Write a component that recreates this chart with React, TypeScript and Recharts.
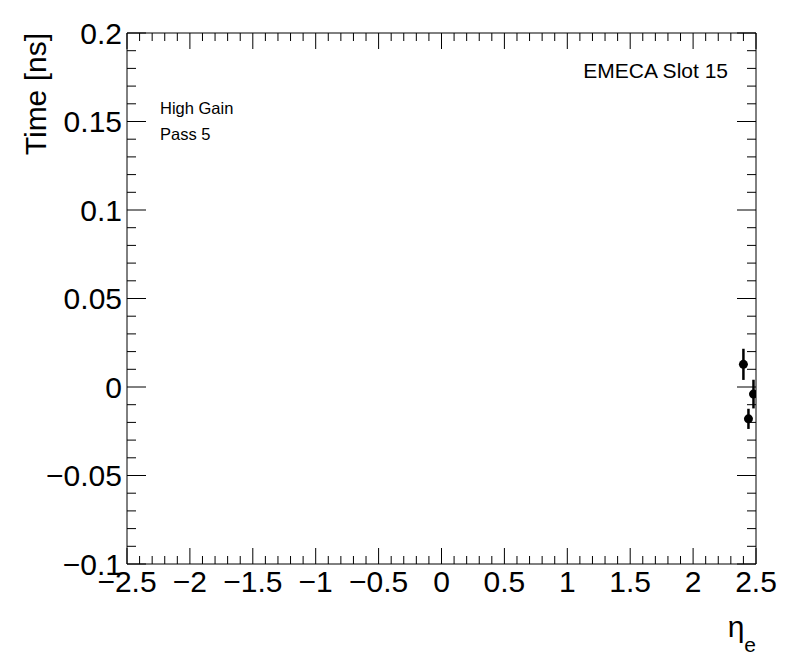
import React from "react";
import { ScatterChart, Scatter, XAxis, YAxis, ErrorBar } from "recharts";

// ---- data ----
const etaValues = [2.4, 2.48, 2.44];
const timeValues = [0.0128, -0.004, -0.018];
const timeErrors = [0.0088, 0.0081, 0.0057];

// ---- axis ticks ----
const xMajor = [-2.5, -2, -1.5, -1, -0.5, 0, 0.5, 1, 1.5, 2, 2.5];
const xLabels = ["\u22122.5", "\u22122", "\u22121.5", "\u22121", "\u22120.5", "0", "0.5", "1", "1.5", "2", "2.5"];
const yMajor = [-0.1, -0.05, 0, 0.05, 0.1, 0.15, 0.2];
const yLabels = ["\u22120.1", "\u22120.05", "0", "0.05", "0.1", "0.15", "0.2"];

const FONT = "'Liberation Sans', Arial, Helvetica, sans-serif";

function withMinor(major: number[], div: number, dec: number): number[] {
  const out: number[] = [];
  for (let i = 0; i < major.length - 1; i++) {
    const a = major[i];
    const b = major[i + 1];
    for (let k = 0; k < div; k++) {
      const v = a + ((b - a) * k) / div;
      out.push(Math.round(v * Math.pow(10, dec)) / Math.pow(10, dec));
    }
  }
  out.push(major[major.length - 1]);
  return out;
}

const xTicks = withMinor(xMajor, 5, 4);
const yTicks = withMinor(yMajor, 5, 5);

const data = etaValues.map((x, i) => ({ x, y: timeValues[i], err: timeErrors[i] }));

const majorIndex = (arr: number[], v: number) => arr.findIndex((m) => Math.abs(m - v) < 1e-7);

const BottomTick = (props: any) => {
  const { x, y, payload } = props;
  const idx = majorIndex(xMajor, payload.value);
  const major = idx >= 0;
  return (
    <g>
      <line x1={x} x2={x} y1={y} y2={y - (major ? 16 : 8)} stroke="#000" strokeWidth={1} />
      {major && (
        <text x={x} y={y + 28} textAnchor="middle" fontSize={30} fontFamily={FONT} fill="#000">
          {xLabels[idx]}
        </text>
      )}
    </g>
  );
};

const TopTick = (props: any) => {
  const { x, y, payload } = props;
  const major = majorIndex(xMajor, payload.value) >= 0;
  return <line x1={x} x2={x} y1={y} y2={y + (major ? 16 : 8)} stroke="#000" strokeWidth={1} />;
};

const LeftTick = (props: any) => {
  const { x, y, payload } = props;
  const idx = majorIndex(yMajor, payload.value);
  const major = idx >= 0;
  return (
    <g>
      <line x1={x} x2={x + (major ? 19 : 9)} y1={y} y2={y} stroke="#000" strokeWidth={1} />
      {major && (
        <text x={x - 5} y={y + 10.5} textAnchor="end" fontSize={30} fontFamily={FONT} fill="#000">
          {yLabels[idx]}
        </text>
      )}
    </g>
  );
};

const RightTick = (props: any) => {
  const { x, y, payload } = props;
  const major = majorIndex(yMajor, payload.value) >= 0;
  return <line x1={x} x2={x - (major ? 19 : 9)} y1={y} y2={y} stroke="#000" strokeWidth={1} />;
};

const Dot = (props: any) => {
  const { cx, cy } = props;
  return <circle cx={cx} cy={cy} r={4.5} fill="#000" />;
};

const NoDot = () => <g />;

export default function App() {
  return (
    <div style={{ position: "absolute", left: 0, top: 0, width: 796, height: 672, background: "#fff" }}>
      <ScatterChart width={796} height={672} margin={{ top: 32, right: 39, left: 0, bottom: 0 }}>
        <XAxis
          xAxisId={0}
          type="number"
          dataKey="x"
          domain={[-2.5, 2.5]}
          ticks={xTicks}
          interval={0}
          allowDataOverflow
          height={108}
          tickSize={0}
          tickMargin={0}
          tickLine={false}
          axisLine={{ stroke: "#000", strokeWidth: 1 }}
          tick={BottomTick}
        />
        <XAxis
          xAxisId="top"
          orientation="top"
          type="number"
          dataKey="x"
          domain={[-2.5, 2.5]}
          ticks={xTicks}
          interval={0}
          allowDataOverflow
          height={1}
          tickSize={0}
          tickMargin={0}
          tickLine={false}
          axisLine={{ stroke: "#000", strokeWidth: 1 }}
          tick={TopTick}
        />
        <YAxis
          yAxisId={0}
          type="number"
          dataKey="y"
          domain={[-0.1, 0.2]}
          ticks={yTicks}
          interval={0}
          allowDataOverflow
          width={127}
          tickSize={0}
          tickMargin={0}
          tickLine={false}
          axisLine={{ stroke: "#000", strokeWidth: 1 }}
          tick={LeftTick}
        />
        <YAxis
          yAxisId="right"
          orientation="right"
          type="number"
          dataKey="y"
          domain={[-0.1, 0.2]}
          ticks={yTicks}
          interval={0}
          allowDataOverflow
          width={1}
          tickSize={0}
          tickMargin={0}
          tickLine={false}
          axisLine={{ stroke: "#000", strokeWidth: 1 }}
          tick={RightTick}
        />
        <Scatter data={data} xAxisId="top" yAxisId="right" shape={NoDot} isAnimationActive={false} />
        <Scatter data={data} xAxisId={0} yAxisId={0} shape={Dot} isAnimationActive={false}>
          <ErrorBar dataKey="err" direction="y" width={0} stroke="#000" strokeWidth={2.5} />
        </Scatter>
      </ScatterChart>
      <svg
        width={796}
        height={672}
        style={{ position: "absolute", left: 0, top: 0, pointerEvents: "none" }}
      >
        <text
          transform="translate(46,33) rotate(-90)"
          textAnchor="end"
          fontSize={30}
          fontFamily={FONT}
          fill="#000"
        >
          Time [ns]
        </text>
        <text x={756} y={637} textAnchor="end" fontFamily={FONT} fill="#000">
          <tspan fontSize={30}>η</tspan>
          <tspan fontSize={21} dy={15}>e</tspan>
        </text>
        <text x={728} y={78} textAnchor="end" fontSize={21} fontFamily={FONT} fill="#000">
          EMECA Slot 15
        </text>
        <text x={160} y={114} fontSize={16.5} fontFamily={FONT} fill="#000">
          High Gain
        </text>
        <text x={160} y={140} fontSize={16.5} fontFamily={FONT} fill="#000">
          Pass 5
        </text>
      </svg>
    </div>
  );
}
